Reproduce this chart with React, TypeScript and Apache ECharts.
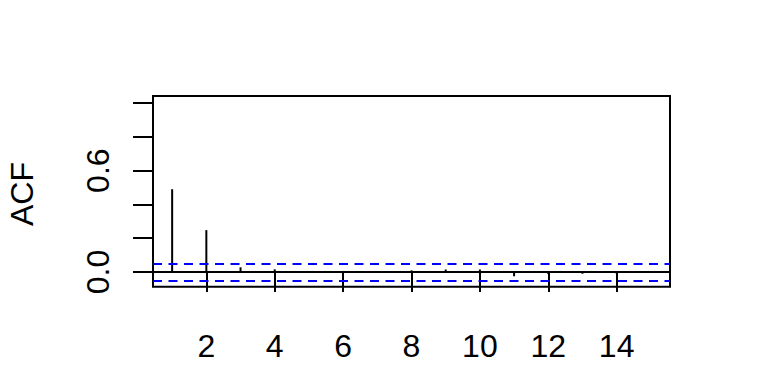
import React, { useEffect, useRef } from "react";
import * as echarts from "echarts";

const lags = [1, 2, 3, 4, 5, 6, 7, 8, 9, 10, 11, 12, 13, 14, 15];
const acfValues = [0.49, 0.248, 0.028, 0.016, 0.0, -0.005, -0.005, 0.01, 0.015, 0.015, -0.025, -0.012, -0.01, -0.01, 0.0];
const confLimit = 0.05;
const xTicks = [2, 4, 6, 8, 10, 12, 14];
const yTicks = [0, 0.2, 0.4, 0.6, 0.8, 1.0];
const yLabels = [0, 0.6];

export default function App() {
  const ref = useRef<HTMLDivElement>(null);
  useEffect(() => {
    if (!ref.current) return;
    const chart = echarts.init(ref.current, null, { renderer: "svg" });
    const font = "'Liberation Sans', Arial, sans-serif";
    const data = lags.map((l, i) => [l, acfValues[i]]);
    chart.setOption({
      animation: false,
      backgroundColor: "#ffffff",
      grid: {
        left: 153,
        right: 98,
        top: 96,
        bottom: 97.3,
        show: true,
        borderColor: "#000",
        borderWidth: 2,
        backgroundColor: "transparent",
      },
      xAxis: {
        type: "value",
        min: 0.44,
        max: 15.56,
        splitLine: { show: false },
        axisLine: { show: false },
        axisTick: {
          show: true,
          customValues: xTicks,
          length: 20,
          lineStyle: { color: "#000", width: 2 },
        },
        axisLabel: {
          show: true,
          customValues: xTicks,
          margin: 43,
          fontSize: 32,
          lineHeight: 32,
          color: "#000",
          fontFamily: font,
        },
      },
      yAxis: {
        type: "value",
        min: -0.0867,
        max: 1.0417,
        splitLine: { show: false },
        axisLine: { show: false },
        axisTick: {
          show: true,
          customValues: yTicks,
          length: 20,
          lineStyle: { color: "#000", width: 2 },
        },
        axisLabel: {
          show: true,
          customValues: yLabels,
          rotate: 90,
          margin: 39,
          fontSize: 32,
          lineHeight: 32,
          color: "#000",
          fontFamily: font,
          formatter: (v: number) => v.toFixed(1),
        },
      },
      graphic: [
        {
          type: "text",
          x: 22,
          y: 194,
          rotation: Math.PI / 2,
          style: {
            text: "ACF",
            fontSize: 32,
            fontFamily: font,
            fill: "#000",
            textAlign: "center",
            textVerticalAlign: "middle",
          },
        },
      ],
      series: [
        {
          type: "custom",
          data,
          renderItem: (params: any, api: any) => {
            const p0 = api.coord([api.value(0), 0]);
            const p1 = api.coord([api.value(0), api.value(1)]);
            return {
              type: "line",
              shape: { x1: p0[0], y1: p0[1], x2: p1[0], y2: p1[1] },
              style: { stroke: "#000", lineWidth: 2 },
            };
          },
          markLine: {
            silent: true,
            symbol: "none",
            label: { show: false },
            data: [
              { yAxis: 0, lineStyle: { color: "#000", type: "solid", width: 2 } },
              { yAxis: confLimit, lineStyle: { color: "#0000ff", type: [9, 6.5], width: 2 } },
              { yAxis: -confLimit, lineStyle: { color: "#0000ff", type: [9, 6.5], width: 2 } },
            ],
          },
        },
      ],
    });
    return () => chart.dispose();
  }, []);
  return (
    <div
      ref={ref}
      style={{ position: "fixed", left: 0, top: 0, width: 768, height: 384, background: "#fff" }}
    />
  );
}
